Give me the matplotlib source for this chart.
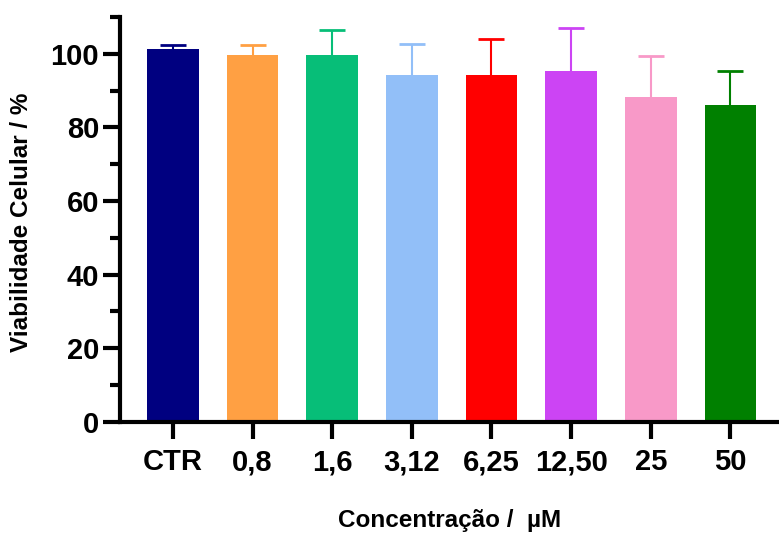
import matplotlib.pyplot as plt
from matplotlib.ticker import MultipleLocator

plt.rcParams['font.family'] = ['Liberation Sans', 'DejaVu Sans']
plt.rcParams['font.weight'] = 'bold'

# data
concentracoes = ['CTR', '0,8', '1,6', '3,12', '6,25', '12,50', '25', '50']
viabilidade = [101.2, 99.8, 99.7, 94.3, 94.3, 95.3, 88.3, 86.2]
erro = [1.1, 2.7, 6.9, 8.4, 9.7, 11.6, 11.2, 9.1]
cores = ['#000080', '#FFA043', '#07BE78', '#92BFF8', '#FF0000',
         '#CC44F4', '#F899C8', '#008000']

fig = plt.figure(figsize=(7.79, 5.34), dpi=100)
ax = fig.add_axes([0.154, 0.210, 0.846, 0.758])

x = range(len(concentracoes))
for i in x:
    ax.bar(i, viabilidade[i], width=0.65, color=cores[i], zorder=2)
    eb = ax.errorbar(i, viabilidade[i], yerr=[[0], [erro[i]]], fmt='none',
                     ecolor=cores[i], elinewidth=1.5, capsize=9.5, capthick=2,
                     zorder=1)
    # only the upper cap, like the original
    eb[1][0].set_visible(False)

ax.set_xlim(-0.665, 7.61)
ax.set_ylim(0, 110)
ax.set_xticks(list(x))
ax.set_xticklabels(concentracoes)
ax.yaxis.set_major_locator(MultipleLocator(20))
ax.yaxis.set_minor_locator(MultipleLocator(10))

for s in ['top', 'right']:
    ax.spines[s].set_visible(False)
for s in ['left', 'bottom']:
    ax.spines[s].set_linewidth(3)

ax.tick_params(axis='y', which='major', length=12, width=3, labelsize=21, pad=3)
ax.tick_params(axis='y', which='minor', length=7, width=3)
ax.tick_params(axis='x', which='major', length=12, width=3, labelsize=21, pad=7)
for lab in ax.get_xticklabels() + ax.get_yticklabels():
    lab.set_fontweight('bold')

fig.text(22 / 779, 1 - 222 / 534, 'Viabilidade Celular / %', rotation=90,
         ha='center', va='center', fontsize=17.5, fontweight='bold')
fig.text(450 / 779, 1 - 521 / 534, 'Concentração /  µM',
         ha='center', va='center', fontsize=17.5, fontweight='bold')

fig.savefig('out.png', dpi=100)
